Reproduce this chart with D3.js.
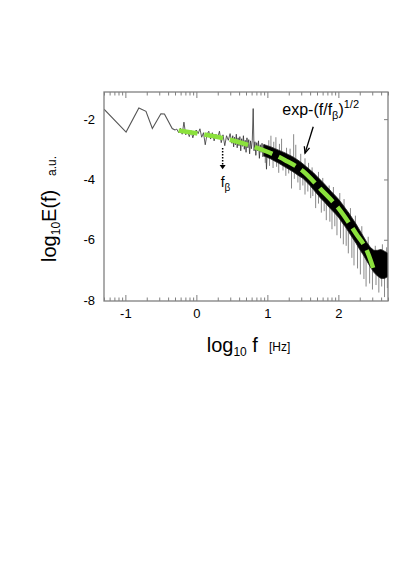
<!DOCTYPE html>
<html>
<head>
<meta charset="utf-8">
<script src="https://cdn.jsdelivr.net/npm/d3@7"></script>
<style>
body { margin: 0; background: #fff; }
svg text { font-family: "Liberation Sans", Arial, sans-serif; fill: #000; }
</style>
</head>
<body>
<svg width="399" height="571"></svg>
<script>
// spectrum, all in log10 f / log10 E
// sparse low frequency part
var lowF = [-1.301, -0.99, -0.81, -0.71, -0.62, -0.50, -0.45, -0.34, -0.30];
var lowE = [-1.67, -2.43, -1.63, -1.74, -2.31, -1.82, -1.83, -2.31, -2.36];

// jagged middle part
var midF = [-0.300, -0.275, -0.250, -0.225, -0.200, -0.175, -0.150, -0.125, -0.100, -0.075,
            -0.050, -0.025, 0.000, 0.025, 0.050, 0.075, 0.100, 0.125, 0.150, 0.175,
            0.200, 0.225, 0.250, 0.275, 0.300, 0.325, 0.350, 0.375, 0.400, 0.425,
            0.450, 0.475, 0.500, 0.5125, 0.525, 0.5375, 0.550, 0.5625, 0.575, 0.5875,
            0.600, 0.6125, 0.625, 0.6375, 0.650, 0.6625, 0.675, 0.6875, 0.700, 0.7125,
            0.725, 0.7375, 0.750, 0.7625, 0.775, 0.7875, 0.800, 0.8125, 0.825, 0.8375,
            0.850, 0.8625, 0.875, 0.8875, 0.900, 0.9125, 0.925, 0.9375, 0.950, 0.9625,
            0.975, 0.9875, 1.000];
var midE = [-2.36, -2.33, -2.45, -2.30, -2.50, -2.10, -2.52, -2.40, -2.58, -2.38,
            -2.62, -2.42, -2.36, -2.48, -2.32, -2.60, -2.45, -2.85, -2.50, -2.40,
            -2.66, -2.45, -2.72, -2.50, -2.62, -2.40, -2.78, -2.52, -2.88, -2.55,
            -2.70, -2.48, -2.80, -2.55, -2.92, -2.60, -2.85, -2.50, -2.95, -2.62,
            -2.88, -2.58, -3.05, -2.65, -2.90, -2.55, -3.00, -2.70, -3.10, -2.62,
            -2.95, -2.68, -3.15, -2.72, -2.98, -2.70, -1.65, -3.05, -2.75, -3.20,
            -2.78, -3.05, -2.72, -3.30, -2.85, -3.10, -2.80, -3.25, -2.85, -3.15,
            -2.90, -3.66, -2.95];

// dense high frequency part: solid band
var bandF  = [0.95, 1.00, 1.05, 1.10, 1.15, 1.20, 1.25, 1.30, 1.35, 1.40, 1.45, 1.50,
              1.55, 1.60, 1.65, 1.70, 1.75, 1.80, 1.85, 1.90, 1.95, 2.00, 2.05, 2.10,
              2.15, 2.20, 2.25, 2.30, 2.35, 2.40, 2.45, 2.50, 2.55, 2.60, 2.65, 2.70];
var bandHi = [-2.84, -2.88, -2.92, -2.97, -3.02, -3.07, -3.12, -3.18, -3.24, -3.31, -3.39, -3.48,
              -3.58, -3.68, -3.78, -3.90, -4.02, -4.14, -4.27, -4.40, -4.52, -4.65, -4.80, -4.96,
              -5.12, -5.30, -5.48, -5.68, -5.88, -6.08, -6.25, -6.35, -6.35, -6.32, -6.38, -6.45];
var bandLo = [-3.22, -3.27, -3.32, -3.39, -3.45, -3.52, -3.59, -3.66, -3.73, -3.81, -3.89, -3.96,
              -4.08, -4.20, -4.34, -4.48, -4.62, -4.74, -4.87, -5.00, -5.12, -5.25, -5.42, -5.58,
              -5.76, -5.94, -6.12, -6.32, -6.50, -6.70, -6.90, -7.08, -7.20, -7.28, -7.28, -7.22];

// spikes sticking out of the band
var spikeF = [1.02, 1.05, 1.09, 1.12, 1.17, 1.20, 1.27, 1.32, 1.37, 1.40, 1.47, 1.53, 1.58, 1.63,
              1.72, 1.78, 1.87, 1.93, 2.02, 2.08, 2.17, 2.24, 2.33, 2.42, 2.52, 2.62, 2.68,
              0.97, 1.03, 1.08, 1.13, 1.16, 1.22, 1.26, 1.30, 1.34, 1.38, 1.43, 1.46, 1.50, 1.53,
              1.57, 1.61, 1.64, 1.68, 1.72, 1.76, 1.80, 1.83, 1.88, 1.91, 1.95, 1.98, 2.03, 2.07,
              2.11, 2.14, 2.19, 2.22, 2.27, 2.31, 2.36, 2.39, 2.44, 2.48, 2.53, 2.57, 2.61, 2.65, 2.69];
var spikeE = [-2.70, -2.55, -2.75, -2.60, -2.82, -2.65, -2.95, -2.98, -2.50, -2.85, -3.15, -3.30, -3.45, -3.60,
              -3.75, -3.95, -4.20, -4.25, -4.45, -4.65, -4.95, -5.20, -5.55, -5.90, -6.20, -6.15, -6.25,
              -3.45, -3.55, -3.62, -3.58, -3.78, -3.70, -3.88, -3.80, -4.30, -3.98, -4.10, -4.35, -4.20, -4.50,
              -4.40, -4.62, -4.55, -4.95, -4.80, -5.10, -5.05, -5.35, -5.40, -5.65, -5.55, -5.85, -5.95, -6.15,
              -6.20, -6.45, -6.60, -6.85, -6.95, -7.15, -7.30, -7.55, -7.45, -7.65, -7.50, -7.75, -7.55, -7.90, -7.60];

// stretched exponential fit (green dashes)
var fitF = [-0.25, 0.00, 0.25, 0.50, 0.75, 1.00, 1.25, 1.50, 1.75, 2.00, 2.25, 2.40, 2.52];
var fitE = [-2.38, -2.47, -2.57, -2.70, -2.87, -3.08, -3.36, -3.72, -4.32, -4.95, -5.80, -6.35, -7.15];

var xTicks = [-1, 0, 1, 2];
var yTicks = [-2, -4, -6, -8];
var fBeta = 0.37;

var svg = d3.select("svg");

var x = d3.scaleLinear().domain([Math.log10(0.05), Math.log10(500)]).range([104, 388]);
var y = d3.scaleLinear().domain([-8.03, -1.1]).range([301, 92]);

// minor log ticks from a log scale
var minor = d3.scaleLog().domain([0.05, 500]).ticks()
    .map(function(d){ return Math.log10(d); })
    .filter(function(d){ return Math.abs(d - Math.round(d)) > 1e-6; });

svg.append("clipPath").attr("id", "clip")
  .append("rect").attr("x", 104).attr("y", 92).attr("width", 284).attr("height", 209);

var plot = svg.append("g").attr("clip-path", "url(#clip)");

// low part
plot.append("path")
    .datum(d3.range(lowF.length))
    .attr("d", d3.line().x(function(i){ return x(lowF[i]); }).y(function(i){ return y(lowE[i]); }))
    .style("fill", "none").style("stroke", "#555").style("stroke-width", 1.1);

// middle part
plot.append("path")
    .datum(d3.range(midF.length))
    .attr("d", d3.line().x(function(i){ return x(midF[i]); }).y(function(i){ return y(midE[i]); }))
    .style("fill", "none").style("stroke", "#333").style("stroke-width", 0.8);

// spikes
var bandMid = d3.scaleLinear().domain(bandF)
    .range(bandF.map(function(d, i){ return (bandHi[i] + bandLo[i]) / 2; }));
plot.selectAll("line.spike")
    .data(d3.range(spikeF.length))
    .enter().append("line")
    .attr("class", "spike")
    .attr("x1", function(i){ return x(spikeF[i]); })
    .attr("x2", function(i){ return x(spikeF[i]); })
    .attr("y1", function(i){ return y(bandMid(spikeF[i])); })
    .attr("y2", function(i){ return y(spikeE[i]); })
    .style("stroke", "#555").style("stroke-width", 0.7);

// band
var band = d3.area()
    .x(function(i){ return x(bandF[i]); })
    .y0(function(i){ return y(bandLo[i]); })
    .y1(function(i){ return y(bandHi[i]); });
plot.append("path")
    .datum(d3.range(bandF.length))
    .attr("d", band)
    .style("fill", "#000").style("stroke", "#222").style("stroke-width", 0.8);

// fit
plot.append("path")
    .datum(d3.range(fitF.length))
    .attr("d", d3.line().curve(d3.curveMonotoneX)
        .x(function(i){ return x(fitF[i]); }).y(function(i){ return y(fitE[i]); }))
    .style("fill", "none").style("stroke", "#8be13c").style("stroke-width", 4.5)
    .style("stroke-dasharray", "19,7");

// axes
var frame = "#808080";
function styleAxis(g){
  g.select(".domain").remove();
  g.selectAll(".tick line").style("stroke", frame).style("stroke-width", 1);
  g.selectAll("text").style("font-size", "13px").style("font-family", "Liberation Sans, Arial, sans-serif");
}
svg.append("g").attr("transform", "translate(0,301)")
  .call(d3.axisBottom(x).tickValues(minor).tickSize(-3.5).tickFormat(""))
  .call(styleAxis);
svg.append("g").attr("transform", "translate(0,301)")
  .call(d3.axisBottom(x).tickValues(xTicks).tickSize(-6).tickPadding(8).tickFormat(function(d){ return String(d); }))
  .call(styleAxis);
svg.append("g").attr("transform", "translate(0,92)")
  .call(d3.axisTop(x).tickValues(minor).tickSize(-3.5).tickFormat(""))
  .call(styleAxis);
svg.append("g").attr("transform", "translate(0,92)")
  .call(d3.axisTop(x).tickValues(xTicks).tickSize(-6).tickFormat(""))
  .call(styleAxis);
svg.append("g").attr("transform", "translate(104,0)")
  .call(d3.axisLeft(y).tickValues(yTicks).tickSize(0).tickPadding(9).tickFormat(function(d){ return String(d); }))
  .call(styleAxis);
svg.append("g").attr("transform", "translate(388,0)")
  .call(d3.axisRight(y).tickValues(yTicks.slice(0, 3)).tickSize(-4).tickFormat(""))
  .call(styleAxis);

svg.append("rect").attr("x", 104).attr("y", 92).attr("width", 284).attr("height", 209)
  .style("fill", "none").style("stroke", frame).style("stroke-width", 1.3);

// f_beta marker
var fbx = x(fBeta);
svg.append("line")
  .attr("x1", fbx).attr("x2", fbx).attr("y1", y(-2.96)).attr("y2", y(-3.52))
  .style("stroke", "#000").style("stroke-width", 1.5).style("stroke-dasharray", "1.5,1.5");
svg.append("path")
  .attr("d", "M" + (fbx - 3) + "," + y(-3.52) + "L" + (fbx + 3) + "," + y(-3.52) + "L" + fbx + "," + y(-3.66) + "Z")
  .style("fill", "#000");
var fbt = svg.append("text").attr("x", fbx - 2).attr("y", y(-4.25)).style("font-size", "14px");
fbt.append("tspan").text("f");
fbt.append("tspan").attr("dy", 4).style("font-size", "10px").text("β");

// fit label and arrow
var et = svg.append("text").attr("x", x(1.21)).attr("y", y(-1.87)).style("font-size", "16px");
et.append("tspan").text("exp-(f/f");
et.append("tspan").attr("dy", 4).style("font-size", "11px").text("β");
et.append("tspan").attr("dy", -4).text(")");
et.append("tspan").attr("dy", -7).style("font-size", "11px").text("1/2");

var ax0 = x(1.646), ay0 = y(-2.25), ax1 = x(1.53), ay1 = y(-3.13);
svg.append("line").attr("x1", ax0).attr("y1", ay0).attr("x2", ax1).attr("y2", ay1)
  .style("stroke", "#000").style("stroke-width", 1.3);
var ang = Math.atan2(ay1 - ay0, ax1 - ax0);
var hl = 7;
svg.append("path")
  .attr("d", "M" + (ax1 - hl * Math.cos(ang - 0.4)) + "," + (ay1 - hl * Math.sin(ang - 0.4)) +
             "L" + ax1 + "," + ay1 +
             "L" + (ax1 - hl * Math.cos(ang + 0.4)) + "," + (ay1 - hl * Math.sin(ang + 0.4)))
  .style("fill", "none").style("stroke", "#000").style("stroke-width", 1.3);

// axis titles
var xt = svg.append("text").attr("x", 206.7).attr("y", 352).style("font-size", "20px");
xt.append("tspan").text("log");
xt.append("tspan").attr("dy", 4).style("font-size", "12px").text("10");
xt.append("tspan").attr("dy", -4).text(" f");
svg.append("text").attr("x", 269).attr("y", 351).style("font-size", "12px").text("[Hz]");

var yg = svg.append("g").attr("transform", "translate(55.5,262) rotate(-90)");
var yt = yg.append("text").attr("x", 0).attr("y", 0).style("font-size", "20px");
yt.append("tspan").text("log");
yt.append("tspan").attr("dy", 4).style("font-size", "12px").text("10");
yt.append("tspan").attr("dy", -4).text("E(f)");
yg.append("text").attr("x", 86).attr("y", 0).style("font-size", "12px").text("a.u.");
</script>
</body>
</html>
